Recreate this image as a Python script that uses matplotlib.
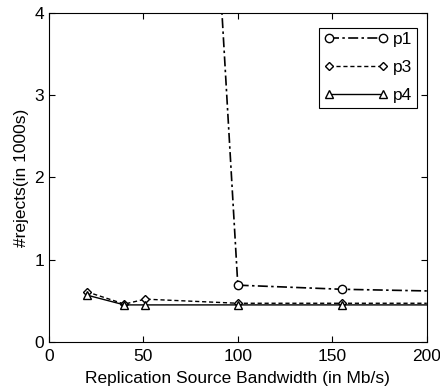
import matplotlib.pyplot as plt

bw = [20, 40, 51, 100, 155, 200]
p1 = [30.0, 25.0, 20.0, 0.69, 0.64, 0.62]
p3 = [0.61, 0.46, 0.52, 0.47, 0.47, 0.47]
p4 = [0.57, 0.45, 0.45, 0.45, 0.45, 0.45]

plt.rcParams['font.family'] = ['Liberation Sans', 'DejaVu Sans']

fig = plt.figure(figsize=(4.4, 3.89), dpi=100)
ax = fig.add_axes([0.111, 0.121, 0.859, 0.846])

mk = dict(markersize=6, markerfacecolor='white', markeredgecolor='black',
          markeredgewidth=1.0, color='black', markevery=[0, 1, 2, 3, 4])
ax.plot(bw, p1, linestyle=(0, (6, 2, 1.5, 2)), marker='o', lw=1.2, label='p1', **mk)
ax.plot(bw, p3, linestyle=(0, (3, 2)), marker='D', lw=1.0, label='p3',
        **{**mk, 'markersize': 4.5})
ax.plot(bw, p4, linestyle='-', marker='^', lw=1.0, label='p4', **mk)

ax.set_xlim(0, 200)
ax.set_ylim(0, 4)
ax.set_xticks([0, 50, 100, 150, 200])
ax.set_yticks([0, 1, 2, 3, 4])
ax.tick_params(direction='in', top=True, right=True, labelsize=12.5, length=4)
ax.tick_params(axis='x', pad=5)
for s in ax.spines.values():
    s.set_linewidth(0.8)

ax.set_xlabel('Replication Source Bandwidth (in Mb/s)', fontsize=12.5, labelpad=5)
ax.set_ylabel('#rejects(in 1000s)', fontsize=12.5, labelpad=4)

leg = ax.legend(loc='upper right', bbox_to_anchor=(0.9735, 0.955), borderaxespad=0,
                numpoints=2, fontsize=12.5, fancybox=False,
                edgecolor='black', framealpha=1, handlelength=3.7,
                handletextpad=0.3, labelspacing=0.75, borderpad=0.25)
leg.get_frame().set_linewidth(0.8)

fig.savefig('out.png', dpi=100)
